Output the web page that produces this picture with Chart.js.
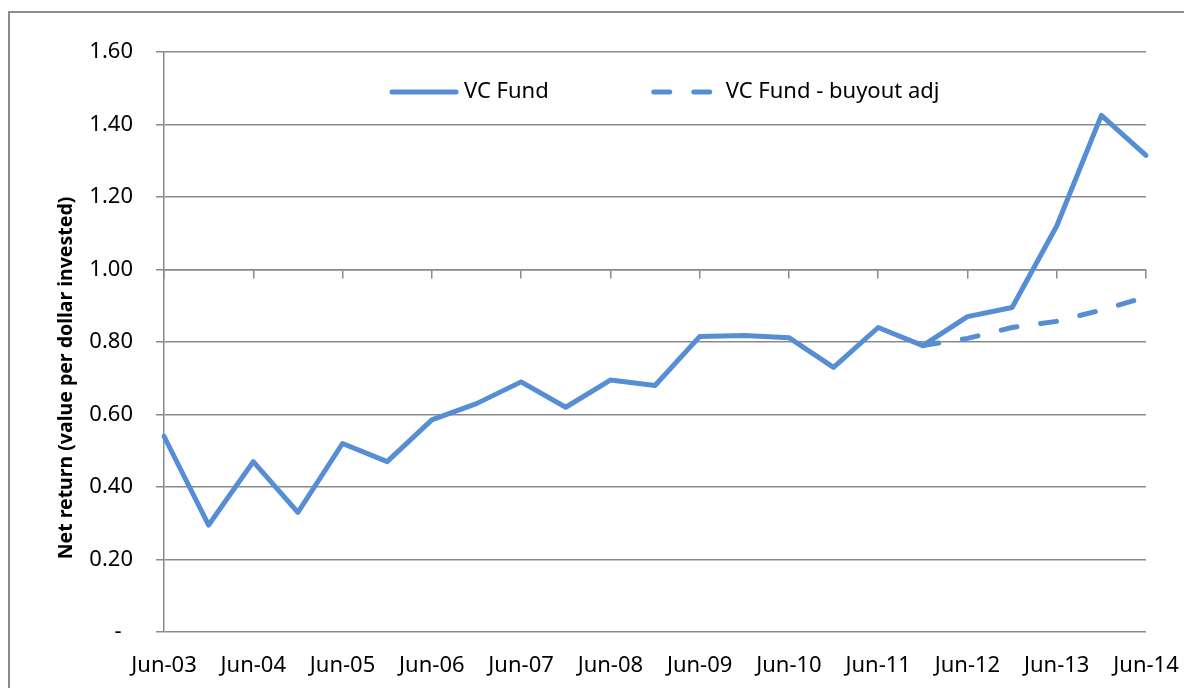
<!DOCTYPE html>
<html>
<head>
<meta charset="utf-8">
<script src="https://cdn.jsdelivr.net/npm/chart.js@4.4.0/dist/chart.umd.min.js"></script>
<style>
  html, body { margin: 0; padding: 0; background: #fff; overflow: hidden; }
  #wrap { position: relative; width: 1184px; height: 688px; }
  #frame { position: absolute; left: 8px; top: 11px; width: 1300px; height: 800px; border: 2px solid #8c8c8c; box-sizing: border-box; }
  #myLineChart { position: absolute; left: 0; top: 0; }
</style>
</head>
<body>
<div id="wrap">
  <div id="frame"></div>
  <canvas id="myLineChart" width="1184" height="688"></canvas>
</div>
<script>
// half-yearly observations
const periods = [
    'Jun-03', 'Dec-03', 'Jun-04', 'Dec-04', 'Jun-05', 'Dec-05', 'Jun-06', 'Dec-06',
    'Jun-07', 'Dec-07', 'Jun-08', 'Dec-08', 'Jun-09', 'Dec-09', 'Jun-10', 'Dec-10',
    'Jun-11', 'Dec-11', 'Jun-12', 'Dec-12', 'Jun-13', 'Dec-13', 'Jun-14'
];
const vcFund = [
    0.54, 0.295, 0.47, 0.33, 0.52, 0.47, 0.585, 0.63,
    0.69, 0.62, 0.695, 0.68, 0.815, 0.818, 0.812, 0.73,
    0.84, 0.79, 0.87, 0.895, 1.12, 1.425, 1.315
];
const vcFundBuyoutAdj = [
    null, null, null, null, null, null, null, null,
    null, null, null, null, null, null, null, null,
    null, 0.79, 0.81, 0.84, 0.857, 0.888, 0.924
];
const seriesNames = ['VC Fund', 'VC Fund - buyout adj'];
const yTitle = 'Net return (value per dollar invested)';

const lineColor = '#558ed5';
const gridColor = '#8a8a8a';
const fontFamily = "'Noto Sans', 'DejaVu Sans', sans-serif";

// legend drawn inside the plot area, like the original
const insideLegend = {
    id: 'insideLegend',
    afterDraw(chart) {
        const ctx = chart.ctx;
        const area = chart.chartArea;
        const y = 92;
        let x = area.left + 226;
        ctx.save();
        ctx.font = '22px ' + fontFamily;
        ctx.textBaseline = 'middle';
        chart.data.datasets.forEach(function (ds) {
            ctx.strokeStyle = ds.borderColor;
            ctx.lineWidth = ds.borderWidth;
            ctx.lineCap = 'round';
            ctx.setLineDash(ds.borderDash || []);
            ctx.beginPath();
            ctx.moveTo(x + 2, y);
            ctx.lineTo(x + 66, y);
            ctx.stroke();
            ctx.setLineDash([]);
            ctx.fillStyle = '#000';
            ctx.fillText(ds.label, x + 74, y);
            x += 74 + ctx.measureText(ds.label).width + 103;
        });
        ctx.restore();
    }
};

// rotated y title, sitting a little below the middle as in the original
const yAxisTitle = {
    id: 'yAxisTitle',
    afterDraw(chart) {
        const ctx = chart.ctx;
        ctx.save();
        ctx.translate(66, 378);
        ctx.rotate(-Math.PI / 2);
        ctx.font = 'bold 19.5px ' + fontFamily;
        ctx.fillStyle = '#000';
        ctx.textAlign = 'center';
        ctx.textBaseline = 'middle';
        ctx.fillText(yTitle, 0, 0);
        ctx.restore();
    }
};

const ctx = document.getElementById('myLineChart').getContext('2d');

window.myLineChart = new Chart(ctx, {
    type: 'line',
    data: {
        labels: periods,
        datasets: [
            {
                label: seriesNames[0],
                data: vcFund,
                borderColor: lineColor,
                backgroundColor: lineColor,
                borderWidth: 5,
                borderJoinStyle: 'round',
                borderCapStyle: 'round',
                pointRadius: 0,
                tension: 0
            },
            {
                label: seriesNames[1],
                data: vcFundBuyoutAdj,
                borderColor: lineColor,
                backgroundColor: lineColor,
                borderWidth: 5,
                borderDash: [16, 24],
                borderJoinStyle: 'round',
                borderCapStyle: 'round',
                pointRadius: 0,
                tension: 0
            }
        ]
    },
    options: {
        responsive: false,
        animation: false,
        devicePixelRatio: 1,
        layout: { padding: { left: 0, top: 52, right: 38, bottom: 0 } },
        plugins: {
            legend: { display: false },
            tooltip: { enabled: false }
        },
        scales: {
            x: {
                type: 'category',
                position: 'bottom',
                // hidden grid, tick length only used as the gap above the labels
                grid: { display: false, drawTicks: true, tickLength: 18 },
                border: { display: false },
                ticks: {
                    autoSkip: false,
                    maxRotation: 0,
                    minRotation: 0,
                    padding: 3,
                    color: '#000',
                    font: { family: fontFamily, size: 22 },
                    callback: function (value, index) {
                        return index % 2 === 0 ? periods[index] : '';
                    }
                },
                afterFit: function (scale) { scale.height = 56; }
            },
            // horizontal axis crosses at 1.00 with tick marks only
            xCross: {
                type: 'category',
                position: { y: 1 },
                grid: {
                    drawOnChartArea: false,
                    drawTicks: true,
                    tickLength: 8,
                    lineWidth: 1.5,
                    color: function (c) { return c.index % 2 === 0 ? gridColor : 'rgba(0,0,0,0)'; }
                },
                border: { display: true, color: gridColor, width: 1.5 },
                ticks: { display: false, autoSkip: false }
            },
            y: {
                min: 0,
                max: 1.6,
                grid: { color: gridColor, lineWidth: 1.5, tickLength: 8 },
                border: { color: gridColor, width: 1.5 },
                ticks: {
                    stepSize: 0.2,
                    padding: 23,
                    color: '#000',
                    font: { family: fontFamily, size: 22 },
                    callback: function (v) {
                        return Math.abs(v) < 1e-9 ? '-  ' : Number(v).toFixed(2);
                    }
                },
                afterFit: function (scale) { scale.width = 164; }
            }
        }
    },
    plugins: [insideLegend, yAxisTitle]
});
</script>
</body>
</html>
